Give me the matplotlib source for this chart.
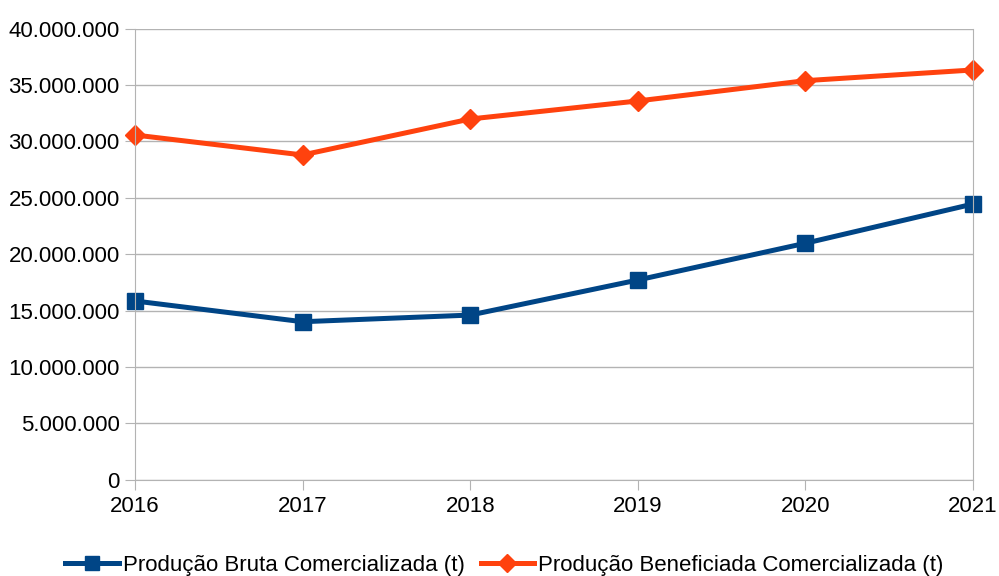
import matplotlib.pyplot as plt
from matplotlib.ticker import FuncFormatter, MultipleLocator

anos = [2016, 2017, 2018, 2019, 2020, 2021]
bruta = [15850000, 14010000, 14600000, 17710000, 20970000, 24450000]
beneficiada = [30570000, 28800000, 31990000, 33590000, 35390000, 36340000]

plt.rcParams['font.family'] = ['Liberation Sans', 'DejaVu Sans']

fig = plt.figure(figsize=(9.99, 5.76), dpi=100)
ax = fig.add_axes([0.1351, 0.1672, 0.974 - 0.1351, 0.9502 - 0.1672])

ax.plot(anos, bruta, color='#004586', lw=3.6, marker='s', ms=11, clip_on=False,
        label='Produção Bruta Comercializada (t)')
ax.plot(anos, beneficiada, color='#ff420e', lw=3.6, marker='D', ms=10, clip_on=False,
        label='Produção Beneficiada Comercializada (t)')

ax.set_xlim(2016, 2021)
ax.set_ylim(0, 40000000)
ax.yaxis.set_major_locator(MultipleLocator(5000000))
ax.yaxis.set_major_formatter(FuncFormatter(lambda v, p: f'{int(v):,}'.replace(',', '.')))
ax.set_xticks(anos)

ax.grid(axis='y', color='#b3b3b3', lw=1)
ax.set_axisbelow(True)
for s in ['left', 'right', 'bottom']:
    ax.spines[s].set_color('#b3b3b3')
ax.spines['top'].set_visible(False)
ax.tick_params(axis='both', colors='#b3b3b3', labelcolor='black', labelsize=16, length=7)
ax.tick_params(axis='x', pad=5)
ax.tick_params(axis='y', pad=4)

fig.legend(loc='center', bbox_to_anchor=(0.505, 0.019), ncol=2, frameon=False,
           fontsize=16, handlelength=2.4, handletextpad=0.2, columnspacing=0.7,
           borderpad=0, markerscale=0.9)

plt.savefig('out.png', dpi=100)
